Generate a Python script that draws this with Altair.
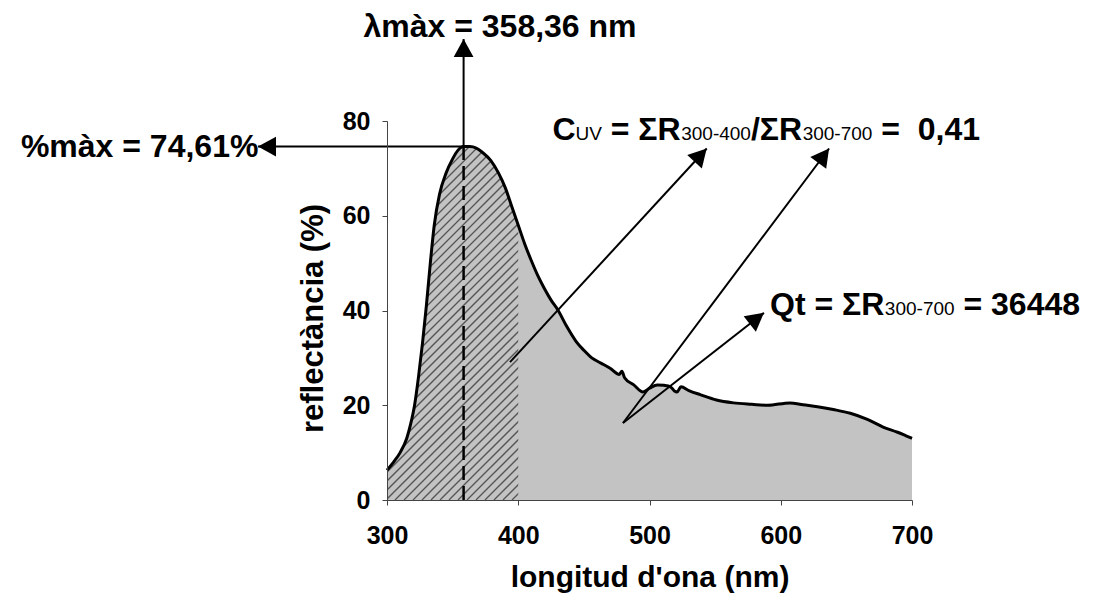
import altair as alt
import numpy as np
import pandas as pd

# ---------------- data ----------------
wavelength = [300, 305, 310, 315, 318, 321, 324, 327, 330, 333,
              336, 340, 345, 350, 354, 358.36, 363, 368, 373, 379,
              385, 390, 395, 400, 405, 410, 415, 420, 425, 430,
              437, 444, 450, 456, 463, 470, 477, 479, 481, 488,
              495, 500, 506, 511, 516, 519, 521, 524, 530, 539,
              551, 564, 578, 590, 607, 617, 628, 640, 653, 666,
              678, 689, 695, 700]
reflectance = [6.3, 8.0, 10.0, 13.0, 16.0, 20.0, 26.0, 33.0, 41.0, 50.0,
               58.0, 64.5, 69.0, 72.0, 73.8, 74.61, 74.6, 74.3, 73.3, 71.7,
               69.0, 66.0, 62.0, 58.0, 54.0, 50.5, 47.3, 44.6, 42.2, 40.2,
               36.6, 33.5, 31.6, 30.0, 28.9, 27.8, 26.5, 27.2, 25.8, 24.3,
               22.8, 23.6, 24.3, 24.2, 23.9, 23.0, 22.8, 23.9, 23.1, 22.2,
               21.1, 20.5, 20.2, 20.0, 20.5, 20.1, 19.7, 19.1, 18.3, 17.0,
               15.4, 14.3, 13.6, 13.0]

x_ticks = [300, 400, 500, 600, 700]
y_ticks = [0, 20, 40, 60, 80]

lam_max = 358.36
pct_max = 74.61
uv_limit = 400

# annotation arrows (data units): start -> tip
arrow_lam = [lam_max, lam_max, 393.7, 479.8, 479.8]
arrow_v = [pct_max, pct_max, 29.1, 16.25, 16.25]
arrow_lam2 = [lam_max, 201.7, 543.6, 636.8, 587.2]
arrow_v2 = [97.3, pct_max, 74.2, 74.2, 39.5]
arrow_angle = [0, 270, 42.6, 36.8, 52.0]

# formula labels: pieces (text, is_subscript); leading spaces only advance the pen
cuv_pieces = [("C", False), ("UV", True), (" = ΣR", False), ("300-400", True),
              ("/ΣR", False), ("300-700", True), (" =", False), ("  0,41", False)]
cuv_start = (426.0, 75.99)
qt_pieces = [("Qt = ΣR", False), ("300-700", True), (" = 36448", False)]
qt_start = (591.8, 39.05)

# ---------------- layout ----------------
W, H = 525, 379
FONT = "Liberation Sans"
GRAY = "#c3c3c3"
BIG, SUB = 32, 19
px_x = W / 400.0
px_y = H / 80.0

# approximate advance widths (per 1000 em) of Liberation Sans, used to chain text pieces
bold_w = {"C": 722, "Q": 778, "t": 333, " ": 278, "=": 584, "Σ": 617, "R": 722, "/": 278,
          ",": 278}
reg_w = {"U": 722, "V": 667, "-": 333, " ": 278}


def text_width(s, size, bold):
    table = bold_w if bold else reg_w
    return sum(table.get(ch, 556) for ch in s) * size / 1000.0


def chain(pieces, start):
    rows = []
    lam, v = start
    for txt, is_sub in pieces:
        size = SUB if is_sub else BIG
        bold = not is_sub
        stripped = txt.lstrip(" ")
        lead = txt[: len(txt) - len(stripped)]
        lam += text_width(lead, size, bold) / px_x
        rows.append({"lam": lam, "v": v, "t": stripped, "sub": is_sub})
        lam += text_width(stripped, size, bold) / px_x
    return rows


pieces = pd.DataFrame(chain(cuv_pieces, cuv_start) + chain(qt_pieces, qt_start))
big = pieces[~pieces["sub"]]
sub = pieces[pieces["sub"]]

curve = pd.DataFrame({"lam": wavelength, "v": reflectance})
curve["top"] = 80
right = curve[curve["lam"] >= uv_limit]

# diagonal hatch (45 degrees on screen)
run = 80 * px_y / px_x
step = 9 / px_x
starts = np.arange(300 - run, uv_limit + step, step)
hatch = pd.DataFrame({"lam": starts, "v": 0.0, "lam2": starts + run, "v2": 80.0})

xs = alt.Scale(domain=[300, 700], nice=False, zero=False)
ys = alt.Scale(domain=[0, 80], nice=False)

xaxis = alt.Axis(values=x_ticks, grid=False, title="longitud d'ona (nm)",
                 labelFont=FONT, labelFontSize=25, labelFontWeight="bold", labelColor="black",
                 labelBaseline="alphabetic", labelPadding=38, labelFlush=False, labelOverlap=False,
                 tickSize=5, tickColor="#444", domainColor="#444", domainWidth=1,
                 titleFont=FONT, titleFontSize=30, titleFontWeight="bold", titleColor="black",
                 titleX=W / 2, titleY=86, titleBaseline="alphabetic", titleAlign="center", zindex=1)
yaxis = alt.Axis(values=y_ticks, grid=False, title="reflectància (%)",
                 labelFont=FONT, labelFontSize=25, labelFontWeight="bold", labelColor="black",
                 labelPadding=12, labelFlush=False, labelOverlap=False,
                 tickSize=5, tickColor="#444", domainColor="#444", domainWidth=1,
                 titleFont=FONT, titleFontSize=31, titleFontWeight="bold", titleColor="black",
                 titleX=-65, titleY=197, titleAngle=270, titleBaseline="alphabetic",
                 titleAlign="center", zindex=1)

X = alt.X("lam:Q", scale=xs, axis=xaxis)
Y = alt.Y("v:Q", scale=ys, axis=yaxis)

area_all = alt.Chart(curve).mark_area(color=GRAY, interpolate="monotone", opacity=1).encode(x=X, y=Y)

hatch_layer = alt.Chart(hatch).mark_rule(color="#555555", strokeWidth=1.3, clip=True).encode(
    x=X, y=Y, x2="lam2:Q", y2="v2:Q")

mask = alt.Chart(curve).mark_area(color="white", interpolate="monotone", opacity=1).encode(
    x=X, y=Y, y2="top:Q")

area_right = alt.Chart(right).mark_area(color=GRAY, interpolate="monotone", opacity=1).encode(x=X, y=Y)

line = alt.Chart(curve).mark_line(color="black", strokeWidth=3, interpolate="monotone").encode(x=X, y=Y)

dashed = alt.Chart(pd.DataFrame({"lam": [lam_max], "v": [0.0], "v2": [pct_max]})).mark_rule(
    color="black", strokeWidth=2.5, strokeDash=[14, 6]).encode(x=X, y=Y, y2="v2:Q")

arrows = pd.DataFrame({"lam": arrow_lam, "v": arrow_v, "lam2": arrow_lam2, "v2": arrow_v2})
arrow_lines = alt.Chart(arrows).mark_rule(color="black", strokeWidth=2).encode(
    x=X, y=Y, x2="lam2:Q", y2="v2:Q")

heads = pd.DataFrame({"lam": arrow_lam2, "v": arrow_v2, "ang": arrow_angle})
arrow_heads = alt.Chart(heads).mark_point(
    shape="M0,0L-0.55,1L0.55,1Z", filled=True, color="black", opacity=1, size=1296, strokeWidth=0
).encode(x=X, y=Y, angle=alt.Angle("ang:Q", scale=None))

big_layer = alt.Chart(big).mark_text(align="left", baseline="alphabetic", font=FONT, fontSize=BIG,
                                     fontWeight="bold", color="black").encode(x=X, y=Y, text="t:N")

sub_layer = alt.Chart(sub).mark_text(align="left", baseline="alphabetic", font=FONT, fontSize=SUB,
                                     fontWeight="normal", color="black").encode(x=X, y=Y, text="t:N")

lam_text = alt.Chart(pd.DataFrame({"lam": [386.1], "v": [97.67], "t": ["λmàx = 358,36 nm"]})).mark_text(
    align="center", baseline="alphabetic", font=FONT, fontSize=BIG, fontWeight="bold", color="black"
).encode(x=X, y=Y, text="t:N")

pct_text = alt.Chart(pd.DataFrame({"lam": [202.0], "v": [72.34], "t": ["%màx = 74,61%"]})).mark_text(
    align="right", baseline="alphabetic", font=FONT, fontSize=BIG, fontWeight="bold", color="black"
).encode(x=X, y=Y, text="t:N")

chart = alt.layer(
    area_all, hatch_layer, mask, area_right, line, dashed, arrow_lines, arrow_heads,
    big_layer, sub_layer, lam_text, pct_text
).properties(
    width=W, height=H,
    padding={"left": 387, "top": 121, "right": 182, "bottom": 94},
    autosize=alt.AutoSizeParams(type="none"),
    background="white",
).configure_view(stroke=None)

chart.save("out.html", embed_options={"renderer": "svg", "actions": False})
